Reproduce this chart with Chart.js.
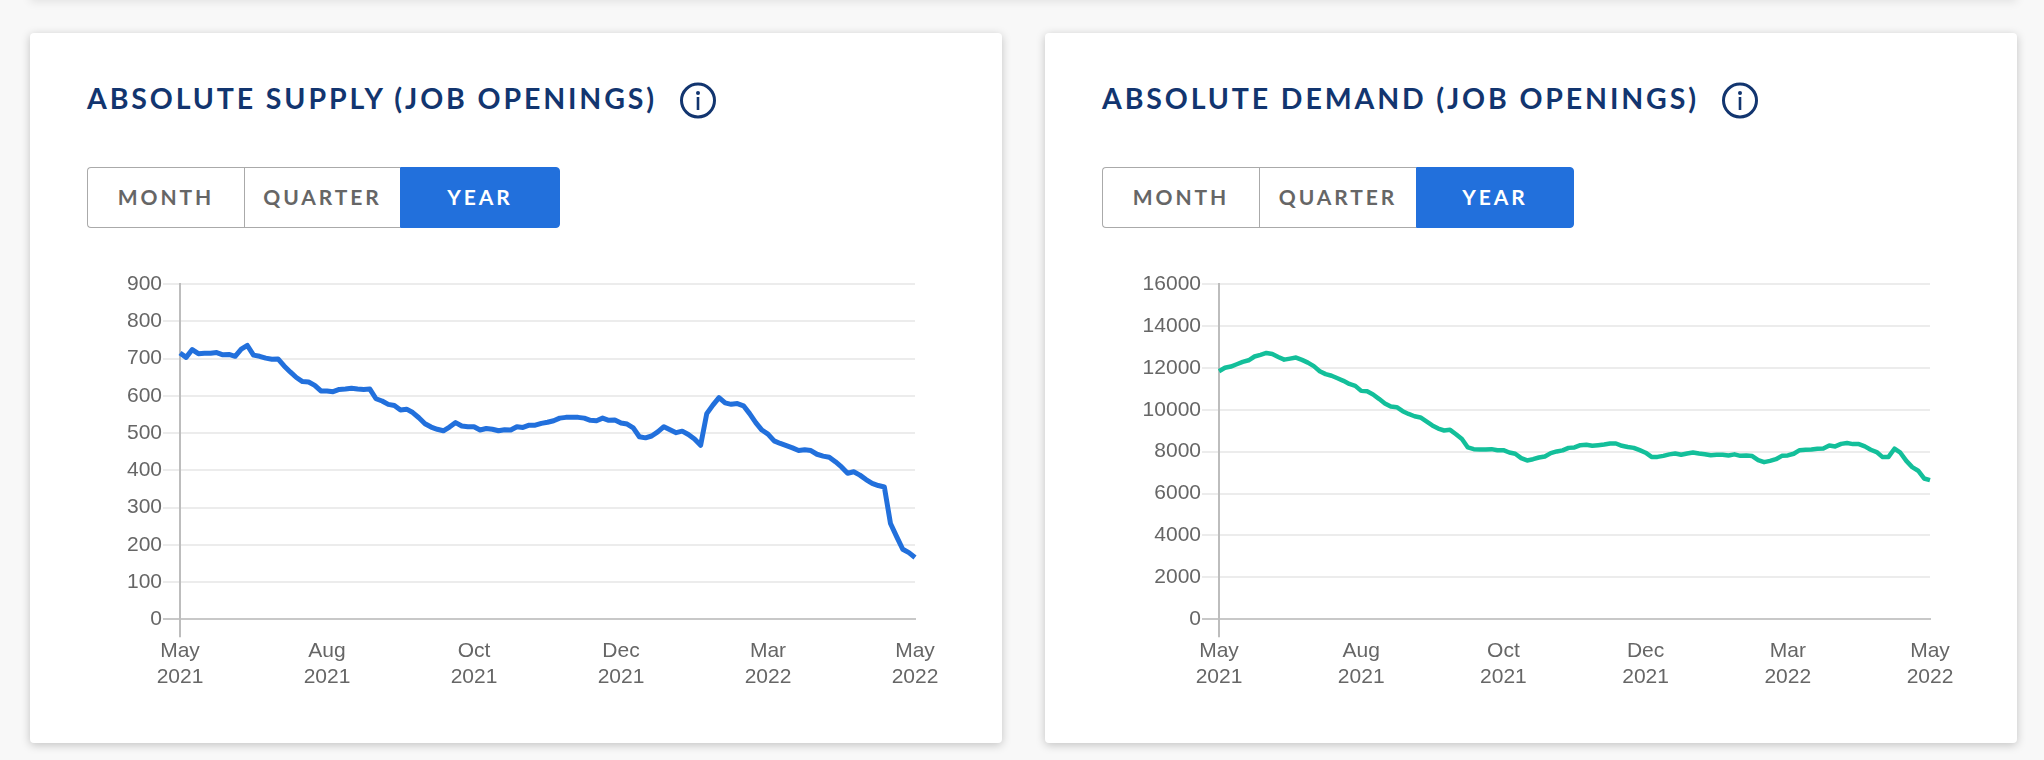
<!DOCTYPE html>
<html><head><meta charset="utf-8">
<script src="https://cdn.jsdelivr.net/npm/chart.js@4"></script>
<style>
html,body{margin:0;padding:0;width:2044px;height:760px;overflow:hidden;background:#f8f8f8;font-family:Lato,sans-serif}
.abs{position:absolute;box-sizing:border-box}
.top{left:30px;width:1987px;top:-20px;height:20px;background:#fff;box-shadow:0 2px 10px rgba(0,0,0,.09)}
.card{top:33px;height:710px;background:#fff;border-radius:4px;box-shadow:0 2px 10px rgba(0,0,0,.22)}
.title{top:81px;font-size:28.5px;line-height:34px;font-weight:700;letter-spacing:2.87px;color:#12356f;white-space:nowrap}
.btn{top:167px;height:61px;font-size:21px;font-weight:700;letter-spacing:2.9px;line-height:57px;text-align:center;color:#666;border:1px solid #aaa;background:#fff}
.btn.on{background:#2270dc;color:#fff;border-color:#2270dc;border-radius:0 4px 4px 0}
.btn.first{border-radius:4px 0 0 4px;border-right:none}
.btn.mid{border-right:none;border-left:1px solid #aaa}
svg.info{position:absolute;top:82px;width:36px;height:37px}
canvas{position:absolute}
</style></head><body>
<div class="abs top"></div>
<div class="abs card" style="left:30px;width:972px"></div>
<div class="abs card" style="left:1045px;width:972px"></div>
<div class="abs title" style="left:87px">ABSOLUTE SUPPLY (JOB OPENINGS)</div>
<div class="abs title" style="left:1102px">ABSOLUTE DEMAND (JOB OPENINGS)</div>
<svg class="info" style="left:680px" viewBox="0 0 36 37"><circle cx="18" cy="18.5" r="16.5" fill="none" stroke="#12356f" stroke-width="3"/><circle cx="18" cy="11" r="2" fill="#12356f"/><rect x="16.7" y="15" width="2.6" height="13" fill="#12356f"/></svg>
<svg class="info" style="left:1722px" viewBox="0 0 36 37"><circle cx="18" cy="18.5" r="16.5" fill="none" stroke="#12356f" stroke-width="3"/><circle cx="18" cy="11" r="2" fill="#12356f"/><rect x="16.7" y="15" width="2.6" height="13" fill="#12356f"/></svg>
<div class="abs btn first" style="left:87px;width:157px">MONTH</div>
<div class="abs btn mid" style="left:244px;width:156px">QUARTER</div>
<div class="abs btn on" style="left:400px;width:160px">YEAR</div>
<div class="abs btn first" style="left:1102px;width:157px">MONTH</div>
<div class="abs btn mid" style="left:1259px;width:157px">QUARTER</div>
<div class="abs btn on" style="left:1416px;width:158px">YEAR</div>
<canvas id="supply" style="left:90px;top:270px;width:870px;height:430px" width="870" height="430"></canvas>
<canvas id="demand" style="left:1129px;top:270px;width:846px;height:430px" width="846" height="430"></canvas>
<script>
const xTickLabels = [["May","2021"],["Aug","2021"],["Oct","2021"],["Dec","2021"],["Mar","2022"],["May","2022"]];
const pointsPerTick = 24;
const supplyValues = [715,703,724,713,714,714,716,710,711,706,725,735,709,706,701,698,699,680,664,649,638,637,628,613,613,
611,617,618,620,618,617,618,592,586,577,574,562,564,555,541,525,516,510,506,516,528,519,517,517,508,512,510,506,509,508,517,515,521,521,526,529,
533,540,542,542,542,540,534,533,540,534,535,527,524,514,490,487,492,503,517,509,501,505,496,484,467,552,575,595,581,577,579,573,552,528,508,497,479,472,466,
460,453,455,453,443,438,435,423,409,392,396,387,375,365,359,355,257,222,188,179,166];
const demandValues = [11840,12000,12060,12170,12280,12360,12540,12620,12710,12660,12520,12390,12440,12490,12380,12250,12080,11840,11700,11620,11500,11380,11230,11140,10900,
10880,10730,10520,10300,10150,10120,9930,9800,9690,9630,9440,9250,9100,9010,9040,8830,8600,8200,8120,8100,8100,8120,8070,8070,7960,7900,7690,7580,7640,7720,7770,7930,8010,8060,8180,
8200,8310,8330,8280,8310,8340,8390,8390,8280,8220,8180,8070,7950,7750,7750,7800,7870,7910,7850,7910,7960,7910,7880,7830,7850,7850,7820,7870,7800,7820,
7790,7600,7500,7560,7640,7800,7820,7900,8070,8090,8100,8140,8150,8290,8250,8370,8410,8360,8360,8250,8090,7980,7740,7750,8140,7950,7560,7260,7090,6720,6640];
const supplyAxis = {max:900, step:100};
const demandAxis = {max:16000, step:2000};
const supplyColor = "#2270dc";
const demandColor = "#13bf9a";

function draw(id, values, axis, color, lineWidth){
  const labels = values.map((v,i)=> i % pointsPerTick === 0 ? xTickLabels[i/pointsPerTick] : "");
  new Chart(document.getElementById(id), {
    type:"line",
    data:{labels, datasets:[{data:values,borderColor:color,borderWidth:lineWidth,pointRadius:0,tension:0,fill:false,borderJoinStyle:"round"}]},
    options:{
      responsive:false,animation:false,devicePixelRatio:1,
      layout:{padding:{top:14,right:45,left:0,bottom:0}},
      plugins:{legend:{display:false},tooltip:{enabled:false},title:{display:false}},
      scales:{
        x:{
          offset:false,
          afterFit(s){s.height=80.7;},
          border:{color:"#c8c8c8",width:2},
          grid:{drawOnChartArea:true,tickLength:18,lineWidth:2,
            color:c=>c.index===0?"#bdbdbd":"rgba(0,0,0,0)",
            tickColor:c=>c.index===0?"#bdbdbd":"rgba(0,0,0,0)"},
          ticks:{autoSkip:false,maxRotation:0,minRotation:0,padding:1,color:"#666",
            font:{family:"'Liberation Sans'",size:21,lineHeight:1.24},
            callback(v,i){return labels[i];}}
        },
        y:{
          min:0,max:axis.max,
          afterFit(s){s.width=90;},
          border:{color:"#bdbdbd",width:2},
          grid:{tickLength:17,lineWidth:2,
            color:c=>c.tick&&c.tick.value===0?"#c8c8c8":"#ececec",
            tickColor:c=>c.tick&&c.tick.value===0?"#c8c8c8":"#ececec"},
          ticks:{stepSize:axis.step,padding:1,color:"#666",
            font:{family:"'Liberation Sans'",size:21,lineHeight:1.2},
            callback(v){return String(v);}}
        }
      }
    }
  });
}
draw("supply",supplyValues,supplyAxis,supplyColor,5);
draw("demand",demandValues,demandAxis,demandColor,4.5);
</script>
</body></html>
